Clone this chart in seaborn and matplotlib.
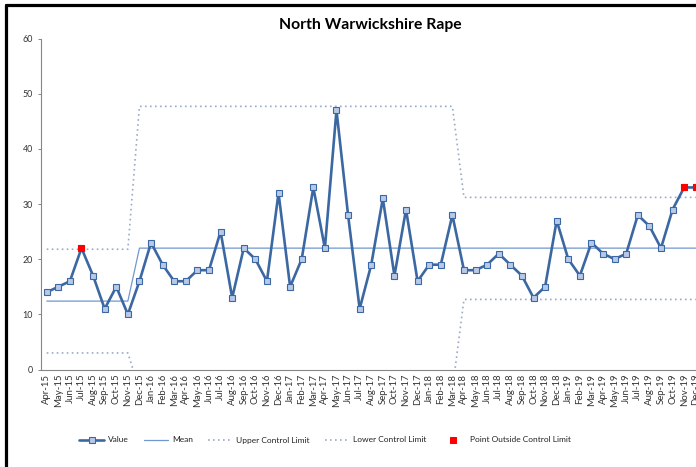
import numpy as np
import pandas as pd
import matplotlib
matplotlib.use("Agg")
import matplotlib.pyplot as plt
from matplotlib.lines import Line2D
import seaborn as sns

# Monthly recorded offences
months = [
    "Apr-15", "May-15", "Jun-15", "Jul-15", "Aug-15", "Sep-15", "Oct-15", "Nov-15", "Dec-15",
    "Jan-16", "Feb-16", "Mar-16", "Apr-16", "May-16", "Jun-16", "Jul-16", "Aug-16", "Sep-16",
    "Oct-16", "Nov-16", "Dec-16", "Jan-17", "Feb-17", "Mar-17", "Apr-17", "May-17", "Jun-17",
    "Jul-17", "Aug-17", "Sep-17", "Oct-17", "Nov-17", "Dec-17", "Jan-18", "Feb-18", "Mar-18",
    "Apr-18", "May-18", "Jun-18", "Jul-18", "Aug-18", "Sep-18", "Oct-18", "Nov-18", "Dec-18",
    "Jan-19", "Feb-19", "Mar-19", "Apr-19", "May-19", "Jun-19", "Jul-19", "Aug-19", "Sep-19",
    "Oct-19", "Nov-19", "Dec-19",
]
values = [
    14, 15, 16, 22, 17, 11, 15, 10, 16,
    23, 19, 16, 16, 18, 18, 25, 13, 22,
    20, 16, 32, 15, 20, 33, 22, 47, 28,
    11, 19, 31, 17, 29, 16, 19, 19, 28,
    18, 18, 19, 21, 19, 17, 13, 15, 27,
    20, 17, 23, 21, 20, 21, 28, 26, 22,
    29, 33, 33,
]

# Control chart phases: number of months in each phase and its limits
phase_lengths = [8, 28, 21]
phase_mean = [12.4, 22.0, 22.0]
phase_ucl = [21.8, 47.7, 31.2]
phase_lcl = [3.0, -3.7, 12.7]

# Months flagged as outside the control limits
outside_months = ["Jul-15", "Nov-19", "Dec-19"]

idx = np.arange(len(months))
df = pd.DataFrame({
    "i": idx,
    "month": months,
    "value": values,
    "mean": np.repeat(phase_mean, phase_lengths),
    "ucl": np.repeat(phase_ucl, phase_lengths),
    "lcl": np.repeat(phase_lcl, phase_lengths),
})
out = df[df["month"].isin(outside_months)]

sns.set_theme(style="white")
plt.rcParams["font.family"] = ["Lato", "DejaVu Sans"]

W, H = 696, 467
fig = plt.figure(figsize=(W / 100, H / 100), dpi=100)
fig.patch.set_facecolor("white")

step = 11.59
x0_px, y0_px, ytop_px = 40.7, 369.5, 38.5
xmin, xmax = -0.52, 58.0
ax = fig.add_axes([x0_px / W, (H - y0_px) / H,
                   (xmax - xmin) * step / W, (y0_px - ytop_px) / H])

line_blue = "#3B68A3"
limit_col = "#98AACA"

sns.lineplot(data=df, x="i", y="lcl", ax=ax, color=limit_col, lw=1.2,
             linestyle=(0, (1, 2.0)), label="Lower Control Limit", zorder=2)
sns.lineplot(data=df, x="i", y="ucl", ax=ax, color=limit_col, lw=1.2,
             linestyle=(0, (1, 2.0)), label="Upper Control Limit", zorder=2)
sns.lineplot(data=df, x="i", y="mean", ax=ax, color="#6F98CF", lw=0.9,
             label="Mean", zorder=3)
sns.lineplot(data=df, x="i", y="value", ax=ax, color=line_blue, lw=1.9,
             marker="s", markersize=4.2, markerfacecolor="#B7C9E6",
             markeredgecolor=line_blue, markeredgewidth=0.8,
             label="Value", zorder=4)
sns.lineplot(data=out, x="i", y="value", ax=ax, color="red", lw=0,
             marker="s", markersize=4.0, markerfacecolor="#FF0000",
             markeredgecolor="#FF0000", label="Point Outside Control Limit",
             zorder=5)

ax.set_xlim(xmin, xmax)
ax.set_ylim(0, 60)
ax.set_yticks(np.arange(0, 61, 10))
ax.set_xticks(idx)
ax.set_xticklabels(months, rotation=90, fontsize=6.9, color="#333333")
ax.tick_params(axis="x", length=0, pad=3)
ax.tick_params(axis="y", length=2.5, width=0.7, color="#868686",
               labelsize=6.4, labelcolor="#333333", pad=3, left=True)
ax.set_xlabel("")
ax.set_ylabel("")
for side in ["top", "right"]:
    ax.spines[side].set_visible(False)
for side in ["left", "bottom"]:
    ax.spines[side].set_color("#868686")
    ax.spines[side].set_linewidth(0.8)
ax.get_legend().remove()

fig.text(370 / W, 1 - 25 / H, "North Warwickshire Rape", ha="center",
         va="center", fontsize=11.3, fontweight="bold", color="#000000")

handles, labels = ax.get_legend_handles_labels()
order = ["Value", "Mean", "Upper Control Limit", "Lower Control Limit",
         "Point Outside Control Limit"]
hmap = dict(zip(labels, handles))
fig.legend([hmap[k] for k in order], order, loc="center",
           bbox_to_anchor=(325 / W, 1 - 440 / H), ncol=5, frameon=False,
           fontsize=6.0, handlelength=2.9, handletextpad=0.5,
           columnspacing=1.8, numpoints=1, labelcolor="#222222")

# chart frame
fig.add_artist(Line2D([5.5 / W, 5.5 / W], [0, 1 - 4.5 / H],
                      transform=fig.transFigure, color="black", lw=2.3))
fig.add_artist(Line2D([5.5 / W, 1.0], [1 - 4.5 / H, 1 - 4.5 / H],
                      transform=fig.transFigure, color="black", lw=2.3))

fig.savefig("out.png", dpi=100)
